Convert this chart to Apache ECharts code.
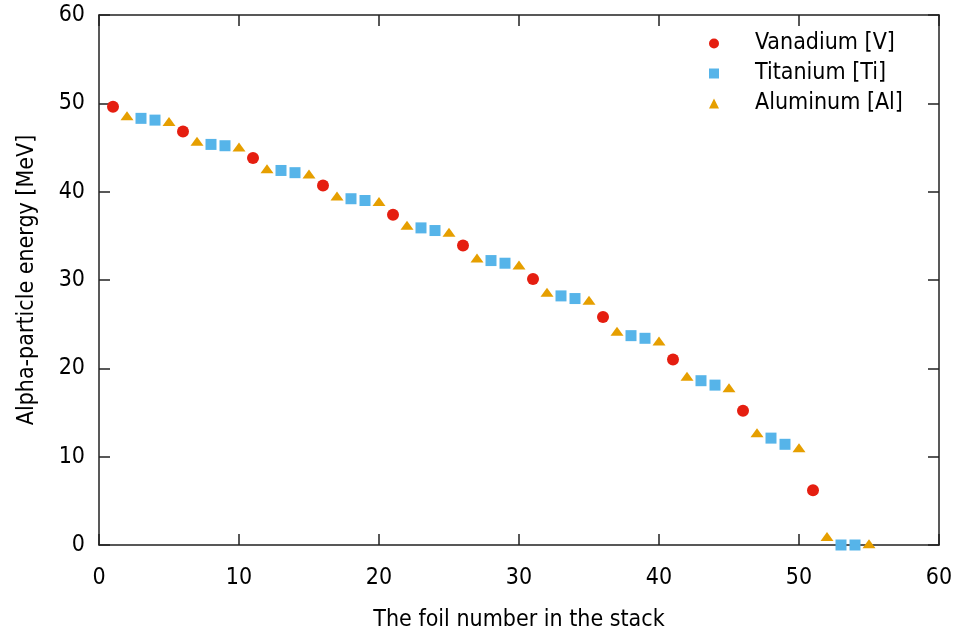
<!DOCTYPE html>
<html>
<head>
<meta charset="utf-8">
<script src="https://cdn.jsdelivr.net/npm/echarts@6/dist/echarts.min.js"></script>
<style>
    html, body {margin: 0; padding: 0; background: #fff;}
    #chartId {width: 962px; height: 637px;}
</style>
</head>
<body>
<div id="chartId"></div>
<script>
// foil numbers and alpha energies (MeV)
var vanadiumFoils = [1, 6, 11, 16, 21, 26, 31, 36, 41, 46, 51];
var vanadiumEnergy = [49.6, 46.8, 43.8, 40.7, 37.4, 33.9, 30.1, 25.8, 21.0, 15.2, 6.2];

var titaniumFoils = [3, 4, 8, 9, 13, 14, 18, 19, 23, 24, 28, 29, 33, 34, 38, 39, 43, 44, 48, 49, 53, 54];
var titaniumEnergy = [48.3, 48.1, 45.35, 45.2, 42.4, 42.15, 39.2, 39.0, 35.9, 35.6, 32.2, 31.9,
    28.2, 27.9, 23.7, 23.4, 18.6, 18.1, 12.1, 11.4, 0, 0];

var aluminumFoils = [2, 5, 7, 10, 12, 15, 17, 20, 22, 25, 27, 30, 32, 35, 37, 40, 42, 45, 47, 50, 52, 55];
var aluminumEnergy = [48.6, 47.95, 45.7, 45.05, 42.6, 42.0, 39.5, 38.9, 36.2, 35.4, 32.5, 31.7,
    28.6, 27.7, 24.2, 23.1, 19.1, 17.8, 12.7, 11.0, 0.95, 0.15];

var seriesNames = ['Vanadium [V]', 'Titanium [Ti]', 'Aluminum [Al]'];

var fontName = '"DejaVu Sans Condensed", "DejaVu Sans"';
var fontSize = 23;
var axisColor = '#222';

function toPairs(xs, ys) {
    var out = [];
    for (var i = 0; i < xs.length; i++) {
        out.push([xs[i], ys[i]]);
    }
    return out;
}

// one axis of the box; mirror=true gives the top/right copy without labels
function makeAxis(isX, mirror) {
    var axis = {
        type: 'value',
        min: 0,
        max: 60,
        interval: 10,
        position: isX ? (mirror ? 'top' : 'bottom') : (mirror ? 'right' : 'left'),
        axisLine: {show: true, onZero: false, lineStyle: {color: axisColor, width: 1.5}},
        axisTick: {show: true, inside: true, length: 11, lineStyle: {color: axisColor, width: 1.5}},
        axisLabel: {show: !mirror, color: '#000', fontFamily: fontName, fontSize: fontSize, margin: isX ? 22 : 14},
        splitLine: {show: false}
    };
    if (!mirror) {
        axis.name = isX ? 'The foil number in the stack' : 'Alpha-particle energy [MeV]';
        axis.nameLocation = 'middle';
        axis.nameGap = isX ? 64 : 60;
        axis.nameTextStyle = {color: '#000', fontFamily: fontName, fontSize: fontSize};
    }
    return axis;
}

function makeSeries(name, xs, ys, symbol, size, color) {
    return {
        name: name,
        type: 'scatter',
        symbol: symbol,
        symbolSize: size,
        clip: false,
        itemStyle: {color: color, opacity: 1},
        data: toPairs(xs, ys)
    };
}

var chart = echarts.init(document.getElementById('chartId'));
var option = {
    animation: false,
    backgroundColor: '#fff',
    grid: {left: 99, right: 23, top: 15, bottom: 91},
    legend: {
        orient: 'vertical',
        left: 704,
        top: 27,
        itemWidth: 10,
        itemHeight: 10,
        itemGap: 7,
        data: seriesNames,
        textStyle: {color: '#000', fontFamily: fontName, fontSize: fontSize, padding: [0, 0, 0, 31]}
    },
    xAxis: [makeAxis(true, false), makeAxis(true, true)],
    yAxis: [makeAxis(false, false), makeAxis(false, true)],
    series: [
        makeSeries(seriesNames[0], vanadiumFoils, vanadiumEnergy, 'circle', 12, '#e51e10'),
        makeSeries(seriesNames[1], titaniumFoils, titaniumEnergy, 'rect', 11, '#56b4e9'),
        makeSeries(seriesNames[2], aluminumFoils, aluminumEnergy, 'triangle', [13, 9], '#e69f00')
    ]
};
chart.setOption(option);
</script>
</body>
</html>
